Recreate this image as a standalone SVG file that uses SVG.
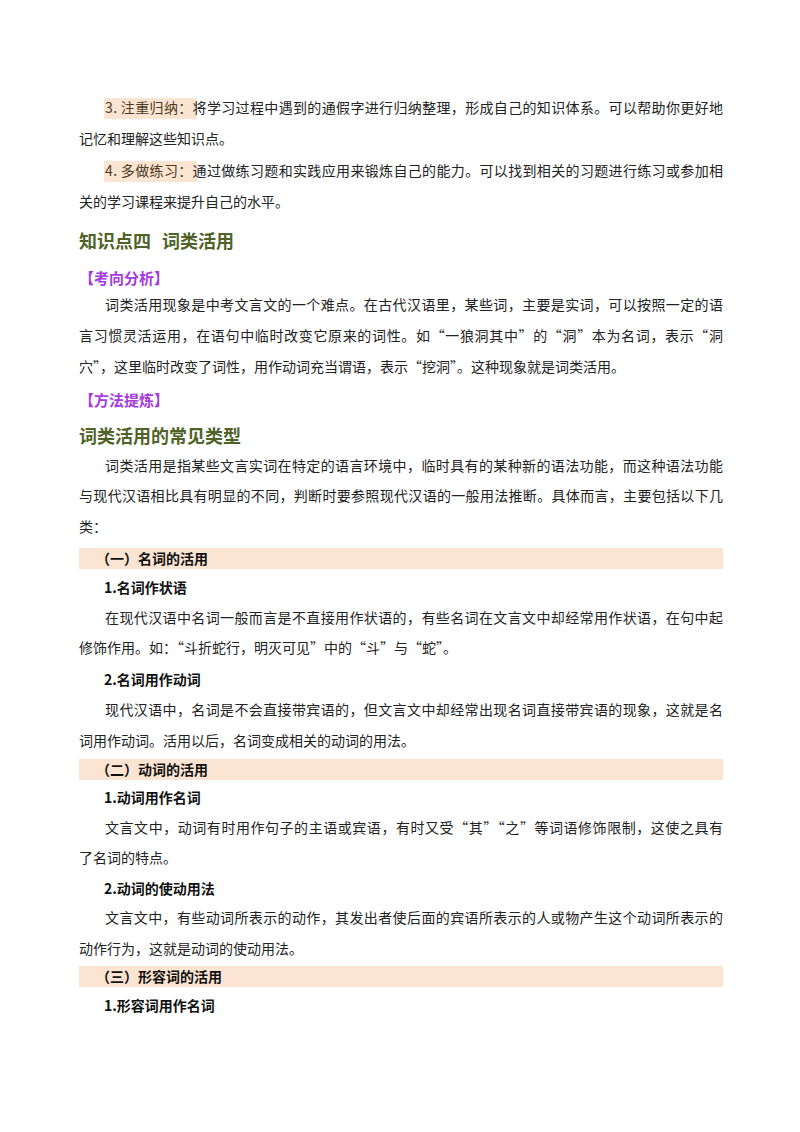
<svg xmlns="http://www.w3.org/2000/svg" width="800" height="1132" viewBox="0 0 800 1132">
<style>
text{font-family:"Noto Sans CJK SC","Noto Sans",sans-serif;font-size:14px;fill:#222}
.b{font-weight:bold;fill:#111}
.h{font-size:18px;font-weight:bold;fill:#4f6228}
.p{font-size:15px;font-weight:bold;fill:#a43be0}
.band{fill:#fce4d3}
</style>
<rect width="800" height="1132" fill="#fff"/>
<rect class="band" x="104" y="98" width="93" height="21"/>
<rect class="band" x="104" y="161" width="93" height="21"/>
<text x="105" y="113" textLength="618" lengthAdjust="spacing"><tspan fill="#4a3a20">3. 注重归纳：</tspan>将学习过程中遇到的通假字进行归纳整理，形成自己的知识体系。可以帮助你更好地</text>
<text x="79" y="144">记忆和理解这些知识点。</text>
<text x="105" y="176" textLength="618" lengthAdjust="spacing"><tspan fill="#4a3a20">4. 多做练习：</tspan>通过做练习题和实践应用来锻炼自己的能力。可以找到相关的习题进行练习或参加相</text>
<text x="79" y="207">关的学习课程来提升自己的水平。</text>
<text class="h" x="79" y="248">知识点四<tspan x="162">词类活用</tspan></text>
<text class="p" x="79" y="284">【考向分析】</text>
<text x="105" y="310" textLength="618" lengthAdjust="spacing">词类活用现象是中考文言文的一个难点。在古代汉语里，某些词，主要是实词，可以按照一定的语</text>
<text x="79" y="341" textLength="644" lengthAdjust="spacing">言习惯灵活运用，在语句中临时改变它原来的词性。如“一狼洞其中”的“洞”本为名词，表示“洞</text>
<text x="79" y="372">穴”，这里临时改变了词性，用作动词充当谓语，表示“挖洞”。这种现象就是词类活用。</text>
<text class="p" x="79" y="406">【方法提炼】</text>
<text class="h" x="79" y="443">词类活用的常见类型</text>
<text x="105" y="471" textLength="618" lengthAdjust="spacing">词类活用是指某些文言实词在特定的语言环境中，临时具有的某种新的语法功能，而这种语法功能</text>
<text x="79" y="501" textLength="644" lengthAdjust="spacing">与现代汉语相比具有明显的不同，判断时要参照现代汉语的一般用法推断。具体而言，主要包括以下几</text>
<text x="79" y="532">类：</text>
<rect class="band" x="79" y="548" width="644" height="21"/>
<text class="b" x="96" y="564">（一）名词的活用</text>
<text class="b" x="104" y="593">1.名词作状语</text>
<text x="105" y="623" textLength="618" lengthAdjust="spacing">在现代汉语中名词一般而言是不直接用作状语的，有些名词在文言文中却经常用作状语，在句中起</text>
<text x="79" y="653">修饰作用。如：“斗折蛇行，明灭可见”中的“斗”与“蛇”。</text>
<text class="b" x="104" y="685">2.名词用作动词</text>
<text x="105" y="715" textLength="618" lengthAdjust="spacing">现代汉语中，名词是不会直接带宾语的，但文言文中却经常出现名词直接带宾语的现象，这就是名</text>
<text x="79" y="746">词用作动词。活用以后，名词变成相关的动词的用法。</text>
<rect class="band" x="79" y="759" width="644" height="21"/>
<text class="b" x="96" y="775">（二）动词的活用</text>
<text class="b" x="104" y="803">1.动词用作名词</text>
<text x="105" y="833" textLength="618" lengthAdjust="spacing">文言文中，动词有时用作句子的主语或宾语，有时又受“其”“之”等词语修饰限制，这使之具有</text>
<text x="79" y="863">了名词的特点。</text>
<text class="b" x="104" y="894">2.动词的使动用法</text>
<text x="105" y="923" textLength="618" lengthAdjust="spacing">文言文中，有些动词所表示的动作，其发出者使后面的宾语所表示的人或物产生这个动词所表示的</text>
<text x="79" y="954">动作行为，这就是动词的使动用法。</text>
<rect class="band" x="79" y="966" width="644" height="21"/>
<text class="b" x="96" y="982">（三）形容词的活用</text>
<text class="b" x="104" y="1011">1.形容词用作名词</text>
</svg>
